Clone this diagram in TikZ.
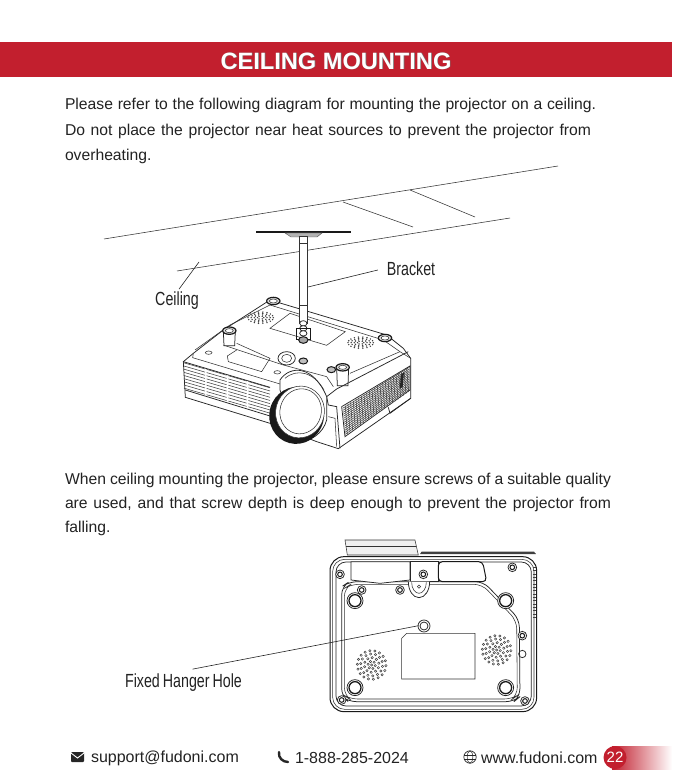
\documentclass[tikz,border=0pt]{standalone}
\usepackage{fontspec}
\usepackage{xcolor}
\setmainfont{Liberation Sans}
\newfontfamily\labelfont[FakeStretch=0.75]{Liberation Sans}
\usetikzlibrary{positioning,calc,shapes.geometric}
\definecolor{bannerred}{HTML}{C21F2E}
\definecolor{bodyink}{HTML}{222222}

\begin{document}
\begin{tikzpicture}[
    x=1pt, y=-1pt,
    every node/.style = {inner sep=0pt, outer sep=0pt},
    bodyline/.style = {anchor=west, text=bodyink, font=\fontsize{15.7}{18}\selectfont},
    partlabel/.style = {text=bodyink, font=\labelfont\fontsize{19}{22}\selectfont},
    footer/.style = {anchor=west, text=bodyink, font=\fontsize{16}{18}\selectfont},
    leader/.style = {draw=bodyink, line width=0.6pt},
    thin line/.style = {draw=black!80, line width=0.55pt},
    body line/.style = {draw=black!85, line width=0.75pt},
    heavy line/.style = {draw=black!90, line width=1pt},
    vent/.style = {draw=black!75, line width=0.55pt},
    iso/.style = {x=0.3333pt, y=-0.3333pt}
]
    \useasboundingbox (0,0) rectangle (672,783);

    % 1. Banner
    \fill [bannerred] (0,42) rectangle (672,77);
    \node [text=black!55, font=\bfseries\fontsize{23.6}{26}\selectfont] at (336.7,61.7) {CEILING MOUNTING};
    \node [text=white, font=\bfseries\fontsize{23.6}{26}\selectfont] (title) at (336,61) {CEILING MOUNTING};

    % 2. Text
    \node [bodyline] (line_a) at (65,105) {\makebox[531pt][s]{Please refer to the following diagram for mounting the projector on a ceiling.}};
    \node [bodyline] (line_b) at (65,131) {\makebox[526pt][s]{Do not place the projector near heat sources to prevent the projector from}};
    \node [bodyline] (line_c) at (65,156) {overheating.};
    \node [bodyline] (line_d) at (65,480) {\makebox[546pt][s]{When ceiling mounting the projector, please ensure screws of a suitable quality}};
    \node [bodyline] (line_e) at (65,504.5) {\makebox[546pt][s]{are used, and that screw depth is deep enough to prevent the projector from}};
    \node [bodyline] (line_f) at (65,528) {falling.};

    % 3. Ceiling
    \draw [thin line] (104,239) -- (558,166);
    \draw [thin line] (177,271) -- (510,218);
    \draw [thin line] (343,202) -- (413,227);
    \draw [thin line] (410,190) -- (475,217);

    % 4. Projector from above
    \begin{scope}[shift={(170,290)}, iso]
        % body
        \draw [body line, fill=white] (40,215) -- (70,190) -- (160,120) -- (300,30) -- (650,135) -- (700,175) -- (722,205) -- (722,325) -- (505,476) -- (440,455) -- (300,400) -- (46,322) -- cycle;
        \draw [thin line] (70,190) -- (68,203) -- (330,282);
        \draw [body line] (40,215) -- (300,292);
        \draw [body line] (46,300) -- (300,378);
        \draw [thin line] (75,180) -- (180,105) -- (300,45) -- (640,150) -- (690,185);
        \draw [thin line] (160,165) -- (340,225) -- (470,260) -- (490,290);
        \draw [thin line] (200,160) -- (300,205) -- (275,245) -- (175,215) -- (172,198) -- (200,180);
        \draw [thin line] (540,250) -- (690,185) -- (722,205);
        % label plate
        \draw [thin line, fill=white] (360,70) -- (526,125) -- (470,166) -- (300,115) -- cycle;
        % speakers
        \foreach \sx/\sy in {272/83, 572/158} {
            \foreach \r/\n in {0.25/6, 0.5/10, 0.75/14, 1/18} {
                \foreach \k in {1,...,\n} {
                    \fill [black!75] ($(\sx,\sy)+({\k*360/\n}:38*\r*1 and 17*\r)$) circle (2.4);
                }
            }
        }
        % feet
        \foreach \fx/\fy/\fh in {178/122/45, 310/33/0, 645/144/0, 518/232/55} {
            \draw [body line, fill=white] (\fx-18,\fy) -- (\fx-16,\fy+\fh) -- (\fx+16,\fy+\fh) -- (\fx+18,\fy) -- cycle;
            \draw [line width=1.2pt, black!90, fill=black!12] (\fx,\fy) ellipse (20 and 11);
            \draw [thin line, fill=white] (\fx,\fy) ellipse (12 and 6);
        }
        % small holes
        \draw [thin line] (116,188) ellipse (10 and 5);
        \draw [thin line] (322,247) ellipse (10 and 5);
        \draw [heavy line, fill=black!25] (400,213) ellipse (13 and 9);
        \draw [heavy line, fill=black!25] (484,239) ellipse (13 and 9);
        \draw [body line, fill=white] (350,205) ellipse (26 and 20);
        \draw [thin line] (350,205) ellipse (15 and 12);
        % side vents
        \foreach \vl/\vr in {42/105, 110/170, 175/230, 235/300} {
            \foreach \i in {0,...,8} {
                \draw [vent] (\vl,{218+\i*9.5+(\vl-40)*0.29}) -- (\vr,{218+\i*9.5+(\vr-40)*0.29});
            }
        }
        % front vent
        \draw [body line, fill=white] (515,350) -- (720,228) -- (720,300) -- (525,440) -- cycle;
        \foreach \i in {0,...,13} {
            \draw [vent] ({518+\i*0.6},{355+\i*6}) -- (718,{232+\i*5});
        }
        \foreach \i in {1,...,24} {
            \draw [vent] ({518+\i*8},{352-\i*4.9}) -- ({524+\i*8},{438-\i*5.5});
        }
        \fill [black!85] (692,255) -- (702,247) -- (698,290) -- (690,296) -- cycle;
        \draw [body line] (655,352) -- (660,370) -- (722,325);
        \draw [body line] (470,320) -- (500,297) -- (715,185);
        \draw [body line] (475,345) -- (500,350) -- (510,475);
        \draw [body line] (470,320) -- (475,345);
        \draw [thin line] (475,380) -- (495,385) -- (500,470);
        % lens
        \draw [body line, fill=white] (330,270) .. controls (360,225) and (430,225) .. (470,320) -- (470,390) .. controls (460,430) and (420,455) .. (390,455) -- (330,300) -- cycle;
        \draw [thin line] (345,265) .. controls (380,235) and (430,245) .. (462,300);
        \fill [black!90, rotate around={-15:(380,376)}] (380,376) ellipse (82 and 86);
        \fill [white, rotate around={-15:(390,366)}] (390,366) ellipse (73 and 78);
        \draw [thin line, rotate around={-15:(392,364)}] (392,364) ellipse (62 and 68);
        \draw [thin line, rotate around={-15:(390,366)}] (390,366) ellipse (73 and 78);
    \end{scope}

    % 5. Bracket
    \draw [line width=1.8pt, black!90] (256,232) -- (351,232);
    \draw [fill=black!30, draw=black!70, line width=0.4pt] (285,233) -- (322,233) -- (317,237) -- (291,237) -- cycle;
    \node [draw=black!80, fill=white, line width=0.7pt, minimum width=8pt, minimum height=87pt] (rod) at (303.5,280) {};
    \draw [thin line] (299.5,243) -- (307.5,243);
    \draw [thin line] (299.5,305) -- (307.5,305);
    \begin{scope}[shift={(170,290)}, iso]
        \foreach \cy in {100,115,130} {
            \draw [body line, fill=white] (400,\cy) ellipse (11 and 8);
        }
        \draw [heavy line] (380,115) rectangle (422,150);
        \draw [heavy line, fill=black!35] (400,150) ellipse (14 and 10);
    \end{scope}

    % 6. Labels of the upper figure
    \node [partlabel] (ceiling_label) at (177,301) {Ceiling};
    \node [partlabel] (bracket_label) at (411,268.5) {Bracket};
    \coordinate (ceiling_tip) at (199,262);
    \coordinate (bracket_tip) at (308,287);
    \draw [leader] (ceiling_label.north) ++(2,-3) -- (ceiling_tip);
    \draw [leader] (bracket_label.west) ++(-9,1.5) -- (bracket_tip);

    % 7. Projector from below
    \begin{scope}[shift={(310,530)}, iso]
        \draw [thin line, fill=black!6] (105,30) -- (315,30) -- (325,75) -- (112,75) -- cycle;
        \draw [thin line] (108,50) -- (318,50);
        \fill [black!75] (335,65) -- (672,65) -- (678,72) -- (330,72) -- cycle;
        \draw [heavy line, fill=white, rounded corners=14] (60,80) rectangle (680,545);
        \draw [thin line, rounded corners=12] (68,88) rectangle (672,538);
        \draw [body line, rounded corners=10] (78,96) rectangle (664,528);
        \foreach \i in {0,...,15} {
            \draw [vent] (668,{112+\i*10}) -- (678,{112+\i*10});
        }
        % raised panel
        \draw [body line, rounded corners=8] (95,170) -- (118,155) -- (520,155) -- (628,268) -- (630,500) -- (612,515) -- (115,515) -- (95,500) -- cycle;
        \draw [thin line, rounded corners=8] (103,175) -- (122,163) -- (516,163) -- (620,272) -- (622,497) -- (608,507) -- (118,507) -- (103,497) -- cycle;
        % front pieces
        \draw [body line, fill=white] (123,95) -- (300,95) -- (300,150) -- (210,160) -- (123,150) -- cycle;
        \draw [body line, fill=white] (300,95) -- (385,95) -- (385,155) -- (300,155) -- cycle;
        \draw [heavy line, fill=white, rounded corners=4] (385,95) -- (518,95) -- (530,155) -- (385,155) -- cycle;
        \draw [body line, fill=white] (295,155) arc [start angle=180, end angle=0, x radius=32, y radius=48];
        \draw [thin line] (305,157) arc [start angle=180, end angle=0, x radius=22, y radius=33];
        \draw [thin line] (327,170) circle (5);
        % screws
        \foreach \sx/\sy in {90/133, 155/180, 270/180, 340/133, 607/112, 637/317, 645/513, 95/510} {
            \draw [body line, fill=white] (\sx,\sy) circle (13);
            \draw [heavy line] (\sx,\sy) circle (7);
        }
        \draw [body line] (637,372) circle (11);
        % feet
        \foreach \fx/\fy in {135/212, 587/212, 135/473, 587/473} {
            \draw [body line, fill=white] (\fx,\fy) circle (24);
            \draw [line width=1.3pt, black!90] (\fx,\fy) circle (18);
        }
        % hanger hole
        \draw [body line, fill=white] (342,288) circle (18);
        \draw [body line] (342,288) circle (12);
        % label plate
        \draw [thin line] (275,325) -- (290,310) -- (495,310) -- (495,447) -- (275,447) -- cycle;
        % speakers
        \foreach \sx/\sy in {185/405, 560/360} {
            \draw [black!75, line width=0.5pt] (\sx,\sy) circle (3.5);
            \foreach \r/\n in {11/6, 22/10, 33/14, 43/18} {
                \foreach \k in {1,...,\n} {
                    \draw [black!75, line width=0.5pt] ($(\sx,\sy)+({\k*360/\n+\r}:\r)$) circle (3.5);
                }
            }
        }
        \coordinate (hole_tip) at (326,287);
    \end{scope}
    \node [partlabel] (hole_label) at (183.5,682.5) {Fixed\hspace{3pt}Hanger\hspace{3pt}Hole};
    \draw [leader] (hole_label.north) ++(9,-4.5) -- (hole_tip);

    % 8. Footer
    \fill [black!85, rounded corners=1pt] (71,752) rectangle (84,762);
    \draw [white, line width=0.9pt] (71,753) -- (77.5,758) -- (84,753);
    \node [footer] (mail) at (91,758) {support@fudoni.com};
    \draw [black!85, line width=2.4pt, line cap=round] (279,752) .. controls (278,758) and (283,762) .. (288,762);
    \node [footer] (phone) at (295,758) {1-888-285-2024};
    \draw [black!85, line width=0.7pt] (470,757) circle (6.2);
    \draw [black!85, line width=0.5pt] (470,757) ellipse (2.8 and 6.2);
    \draw [black!85, line width=0.5pt] (464,755) -- (476,755) (464,759) -- (476,759);
    \node [footer] (web) at (481,758) {www.fudoni.com};
    \shade [left color=bannerred, right color=white] (612,746) rectangle (672,769);
    \node [circle, fill=bannerred, minimum size=23pt, text=white, font=\fontsize{15}{18}\selectfont] (page) at (615,757.5) {22};
\end{tikzpicture}
\end{document}
